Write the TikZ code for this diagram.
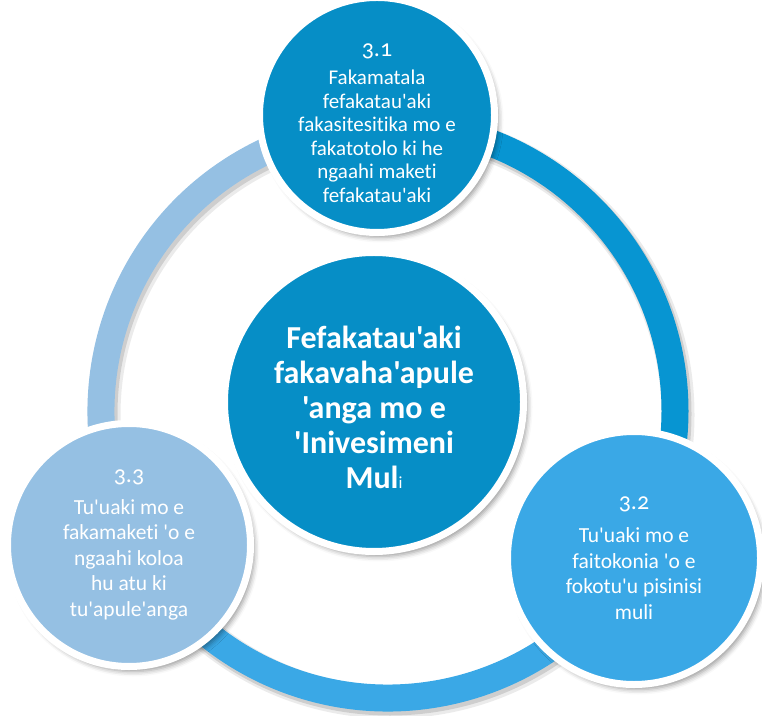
\documentclass[tikz,border=0pt]{standalone}
\usepackage{fontspec}
\setmainfont{Carlito}[Ligatures={TeXOff,NoCommon}]
\newfontfamily\osnum{Carlito}[Ligatures={TeXOff,NoCommon},Numbers=OldStyle]
\usetikzlibrary{shadows.blur}
\definecolor{dblue}{HTML}{068EC6}
\definecolor{dring}{HTML}{0795D2}
\definecolor{mblue}{HTML}{3AA8E6}
\definecolor{lblue}{HTML}{95C0E3}
\begin{document}
\begin{tikzpicture}[x=1pt,y=1pt,
  sat/.style={circle, draw=white, line width=7pt, inner sep=0pt,
    blur shadow={shadow xshift=4pt, shadow yshift=-5pt, shadow blur radius=5pt, shadow opacity=40}},
  txt/.style={text=white, align=center, inner sep=0pt},
  small/.style={font=\fontsize{21.5}{25.5}\selectfont},
  ringseg/.style={line width=27pt}]
\useasboundingbox (0,0) rectangle (762,715);
\coordinate (rc) at (388,304);
% ring shadow
\draw[black, opacity=0.08, line width=33pt] (391,300) circle (287);
\draw[black, opacity=0.12, line width=29pt] (390,301) circle (287);
% ring segments
\draw[ringseg, dring] (rc) ++(92:287) arc[start angle=92, end angle=-31, radius=287];
\draw[ringseg, mblue] (rc) ++(-31:287) arc[start angle=-31, end angle=-152.6, radius=287];
\draw[ringseg, lblue] (rc) ++(207.4:287) arc[start angle=207.4, end angle=92, radius=287];
% circles
\node[sat, fill=dblue, minimum size=235pt] (c1) at (377,600) {};
\node[sat, fill=mblue, minimum size=253pt] (c2) at (634,157) {};
\node[sat, fill=lblue, minimum size=243pt] (c3) at (129,170) {};
\node[sat, fill=dblue, minimum size=299pt] (c0) at (374,313) {};
% texts
\node[txt, font=\fontsize{21}{23.5}\selectfont] (t1) at ([yshift=-8pt]c1.center)
  {{\osnum\fontsize{24}{24}\selectfont 3.1}\\[5pt]Fakamatala\\fefakatau'aki\\fakasitesitika mo e\\fakatotolo ki he\\ngaahi maketi\\fefakatau'aki};
\node[txt, small] (t2) at ([yshift=0pt]c2.center)
  {{\osnum\fontsize{24}{24}\selectfont 3.2}\\[8pt]Tu'uaki mo e\\faitokonia 'o e\\fokotu'u pisinisi\\muli};
\node[txt, small] (t3) at ([yshift=0pt]c3.center)
  {{\osnum\fontsize{24}{24}\selectfont 3.3}\\[6pt]Tu'uaki mo e\\fakamaketi 'o e\\ngaahi koloa\\hu atu ki\\tu'apule'anga};
\node[txt, font=\bfseries\fontsize{32}{35}\selectfont] (t0) at ([yshift=-5pt]c0.center)
  {Fefakatau'aki\\fakavaha'apule\\'anga mo e\\'Inivesimeni\\Mul{\mdseries\fontsize{17}{17}\selectfont i}};
\end{tikzpicture}
\end{document}
